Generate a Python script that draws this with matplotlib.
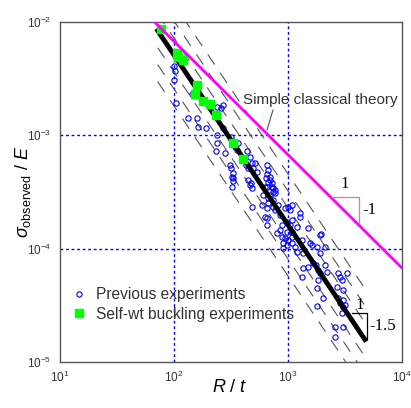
import numpy as np
import matplotlib
matplotlib.use("Agg")
import matplotlib.pyplot as plt

plt.rcParams['font.family'] = ['Liberation Sans', 'DejaVu Sans']
plt.rcParams['mathtext.fontset'] = 'custom'
plt.rcParams['mathtext.rm'] = 'Liberation Sans'
plt.rcParams['mathtext.it'] = 'Liberation Sans:italic'
plt.rcParams['mathtext.sf'] = 'Liberation Sans'

# previous experiments, log10(R/t) and log10(sigma/E)
prev_log_rt = [
    2.000, 2.009, 2.000, 2.018, 2.158, 2.123, 2.202, 2.211, 2.281, 2.377,
    2.430, 2.412, 2.377, 2.377, 2.368, 2.447, 2.430, 2.500, 2.535, 2.553,
    2.561, 2.640, 2.667, 2.684, 2.632, 2.491, 2.500, 2.518, 2.509, 2.518,
    2.509, 2.649, 2.649, 2.667, 2.684, 2.693, 2.728, 2.711, 2.816, 2.825,
    2.816, 2.842, 2.825, 2.860, 2.816, 2.868, 2.886, 2.842, 2.798, 2.886,
    2.675, 2.807, 2.842, 2.860, 2.868, 2.781, 2.825, 2.868, 2.772, 2.868,
    2.912, 2.886, 2.974, 3.000, 3.035, 3.018, 2.816, 2.684, 2.816, 2.991,
    3.018, 3.035, 3.105, 3.105, 2.947, 2.930, 2.991, 3.035, 3.079, 3.175,
    2.947, 2.974, 3.000, 3.035, 2.956, 2.991, 3.035, 3.123, 3.193, 3.211,
    3.281, 3.254, 3.325, 2.825, 2.930, 2.904, 2.956, 3.061, 3.079, 3.132,
    3.289, 3.281, 3.132, 3.175, 3.219, 3.263, 3.325, 3.342, 3.281, 3.263,
    3.254, 3.439, 3.474, 3.518, 3.430, 3.482, 3.439, 3.482, 3.456, 3.482,
    3.307, 3.254, 3.412, 3.482, 3.412, 3.123, 3.246, 3.456, 3.500, 3.474,
    2.518, 2.798, 2.816,
]
prev_log_sigma = [
    -2.388, -2.432, -2.512, -2.715, -2.635, -2.847, -2.847, -2.927, -2.936, -2.750,
    -2.733, -2.759, -2.997, -3.068, -3.139, -3.156, -2.936, -3.015, -3.103, -3.130,
    -3.068, -3.139, -3.192, -3.244, -3.262, -3.262, -3.289, -3.333, -3.368, -3.403,
    -3.456, -3.289, -3.395, -3.439, -3.465, -3.289, -3.324, -3.244, -3.262, -3.306,
    -3.342, -3.368, -3.412, -3.421, -3.456, -3.465, -3.509, -3.527, -3.456, -3.483,
    -3.421, -3.377, -3.395, -3.456, -3.500, -3.527, -3.553, -3.571, -3.615, -3.633,
    -3.615, -3.659, -3.642, -3.633, -3.615, -3.659, -3.642, -3.633, -3.730, -3.765,
    -3.792, -3.748, -3.686, -3.721, -3.792, -3.836, -3.853, -3.853, -3.809, -3.818,
    -3.898, -3.906, -3.924, -3.898, -3.951, -3.968, -3.951, -3.924, -3.951, -3.968,
    -3.880, -3.986, -3.986, -3.598, -3.703, -3.862, -3.995, -3.986, -4.030, -4.039,
    -3.871, -4.039, -4.171, -4.162, -4.127, -4.189, -4.145, -4.207, -4.215, -4.277,
    -4.348, -4.215, -4.277, -4.215, -4.339, -4.365, -4.436, -4.454, -4.480, -4.515,
    -4.436, -4.507, -4.692, -4.692, -4.780, -4.251, -4.145, -4.251, -4.498, -4.568,
    -3.377, -3.721, -3.792,
]

# self-weight buckling experiments
self_log_rt = [1.886, 2.026, 2.035, 2.079, 2.202, 2.184, 2.254, 2.316, 2.368, 2.518, 2.605]
self_log_sigma = [-2.062, -2.274, -2.309, -2.335, -2.556, -2.635, -2.697, -2.724, -2.821, -3.068, -3.209]

# fitted line sigma/E = C (R/t)^-1.5 with scatter band, and classical theory sigma/E = k (R/t)^-1
fit_coef = 5.12
fit_exp = -1.5
fit_range = (72, 4730)
band_offsets = [-0.45, -0.30, -0.15, 0.15, 0.30, 0.45]
classic_coef = 0.675

fig = plt.figure(figsize=(4.11, 4.08), dpi=100)
ax = fig.add_axes([0.146, 0.113, 0.832, 0.833])
ax.set_xscale('log')
ax.set_yscale('log')
ax.set_xlim(1e1, 1e4)
ax.set_ylim(1e-5, 1e-2)

for v in [1e2, 1e3]:
    ax.axvline(v, color='blue', ls=(0, (2, 2)), lw=1, zorder=1)
for v in [1e-4, 1e-3]:
    ax.axhline(v, color='blue', ls=(0, (2, 2)), lw=1, zorder=1)

xf = np.logspace(np.log10(fit_range[0]), np.log10(fit_range[1]), 50)
for d in band_offsets:
    ax.plot(xf, fit_coef * 10**d * xf**fit_exp, color='#555555', lw=0.8,
            ls=(0, (11, 9)), zorder=2)

ax.plot(10**np.array(prev_log_rt), 10**np.array(prev_log_sigma), 'o', ms=3.8,
        mfc='none', mec='blue', mew=0.8, zorder=3, label='Previous experiments')
ax.plot(xf, fit_coef * xf**fit_exp, color='black', lw=3.5, zorder=4)
ax.plot(10**np.array(self_log_rt), 10**np.array(self_log_sigma), 's', ms=6,
        color='#00ff00', mec='#00ff00', zorder=5, label='Self-wt buckling experiments')

xc = np.logspace(1, 4, 50)
ax.plot(xc, classic_coef / xc, color='#ff00ff', lw=2, zorder=6)

# slope triangles
ax.plot([10**3.386, 10**3.623, 10**3.623], [10**-3.545, 10**-3.545, 10**-3.774],
        color='#e070c8', lw=0.9, zorder=6)
ax.text(10**3.50, 10**-3.43, '1', family='Liberation Serif', fontsize=12, ha='center', va='center')
ax.text(10**3.65, 10**-3.66, '-1', family='Liberation Serif', fontsize=12, ha='left', va='center')
ax.plot([10**3.561, 10**3.693, 10**3.693], [10**-4.568, 10**-4.568, 10**-4.798],
        color='black', lw=0.9, zorder=6)
ax.text(10**3.63, 10**-4.50, '1', family='Liberation Serif', fontsize=12, ha='center', va='center')
ax.text(10**3.71, 10**-4.68, '-1.5', family='Liberation Serif', fontsize=12, ha='left', va='center')

ax.annotate('Simple classical theory', xy=(10**2.816, 10**-2.953), xytext=(10**2.605, 10**-2.688),
            fontsize=11, color='#333333', va='center', ha='left',
            arrowprops=dict(arrowstyle='-', color='#555555', lw=0.8, shrinkA=0, shrinkB=0,
                            relpos=(0.2, 0)))

ax.legend(loc='lower left', bbox_to_anchor=(0.015, 0.10), frameon=False, fontsize=11.2,
          handlelength=1.0, handletextpad=0.6, labelspacing=0.3, borderaxespad=0,
          labelcolor='#333333')

ax.tick_params(which='both', length=0, labelsize=8.5, labelcolor='#333333', pad=6)
for s in ax.spines.values():
    s.set_color('#555555')
    s.set_linewidth(1)

ax.set_xlabel(r'$R\ /\ t$', fontsize=13)
ax.set_ylabel(r'$\sigma_{\mathrm{observed}}\ /\ E$', fontsize=13)
ax.xaxis.set_label_coords(0.497, -0.05)
ax.yaxis.set_label_coords(-0.08, 0.5)

fig.savefig('out.png', dpi=100)
